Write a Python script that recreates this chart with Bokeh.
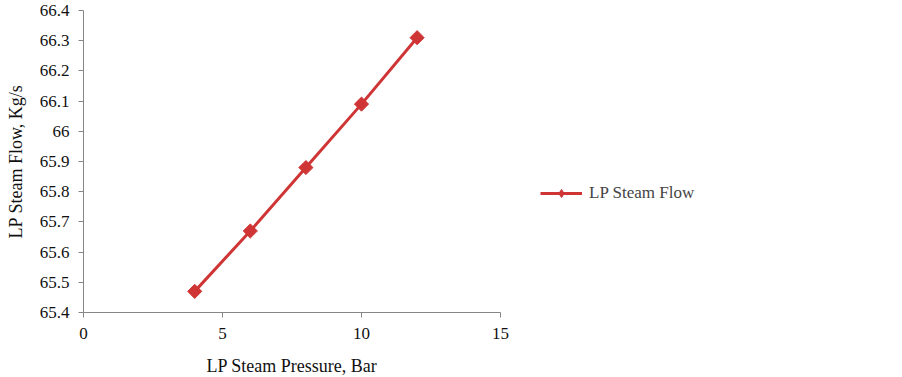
import math
from bokeh.plotting import figure
from bokeh.models import Range1d, FixedTicker, Legend, LegendItem
from bokeh.embed import file_html
from bokeh.resources import INLINE

pressure = [4, 6, 8, 10, 12]
flow = [65.47, 65.67, 65.88, 66.09, 66.31]
x_ticks = [0, 5, 10, 15]
y_ticks = [65.4, 65.5, 65.6, 65.7, 65.8, 65.9, 66.0, 66.1, 66.2, 66.3, 66.4]
y_labels = {65.4: "65.4", 65.5: "65.5", 65.6: "65.6", 65.7: "65.7", 65.8: "65.8",
            65.9: "65.9", 66.0: "66", 66.1: "66.1", 66.2: "66.2", 66.3: "66.3", 66.4: "66.4"}

FONT = "Liberation Serif"
RED = "#CF3535"
AXIS = "#868686"

p = figure(frame_width=417, frame_height=302, output_backend="svg", toolbar_location=None,
           x_range=Range1d(0, 15), y_range=Range1d(65.4, 66.4),
           min_border_left=83, min_border_right=10, min_border_top=10, min_border_bottom=65)
p.outline_line_color = None
p.xgrid.visible = False
p.ygrid.visible = False
p.background_fill_color = "white"

ln = p.line(pressure, flow, line_color=RED, line_width=3)
mk = p.scatter(pressure, flow, marker="square", angle=math.pi / 4, size=10,
               fill_color=RED, line_color=RED)
# legend-only diamond (hidden on the plot)
lg = p.scatter(pressure, flow, marker="diamond", size=13, fill_color=RED, line_color=RED)
lg.visible = False

for ax in (p.xaxis[0], p.yaxis[0]):
    ax.axis_line_color = AXIS
    ax.major_tick_line_color = AXIS
    ax.minor_tick_line_color = None
    ax.major_tick_in = 0
    ax.major_tick_out = 5
    ax.major_label_text_font = FONT
    ax.major_label_text_font_size = "17px"
    ax.major_label_text_color = "#111111"
    ax.axis_label_text_font = FONT
    ax.axis_label_text_font_size = "18px"
    ax.axis_label_text_font_style = "normal"
    ax.axis_label_text_color = "#111111"

p.xaxis.ticker = FixedTicker(ticks=x_ticks)
p.yaxis.ticker = FixedTicker(ticks=y_ticks)
p.yaxis.major_label_overrides = y_labels
p.xaxis.axis_label = "LP Steam Pressure, Bar"
p.yaxis.axis_label = "LP Steam Flow, Kg/s"
p.xaxis.major_label_standoff = 10
p.xaxis.axis_label_standoff = 14
p.yaxis.major_label_standoff = 9
p.yaxis.axis_label_standoff = 11

legend = Legend(items=[LegendItem(label="LP Steam Flow", renderers=[ln, lg])],
                location=(40, 109), border_line_color=None, background_fill_alpha=0,
                label_text_font=FONT, label_text_font_size="17px", glyph_width=42,
                label_standoff=7, inactive_fill_alpha=0)
p.add_layout(legend, "right")

open("out.html", "w").write(file_html(p, INLINE))
